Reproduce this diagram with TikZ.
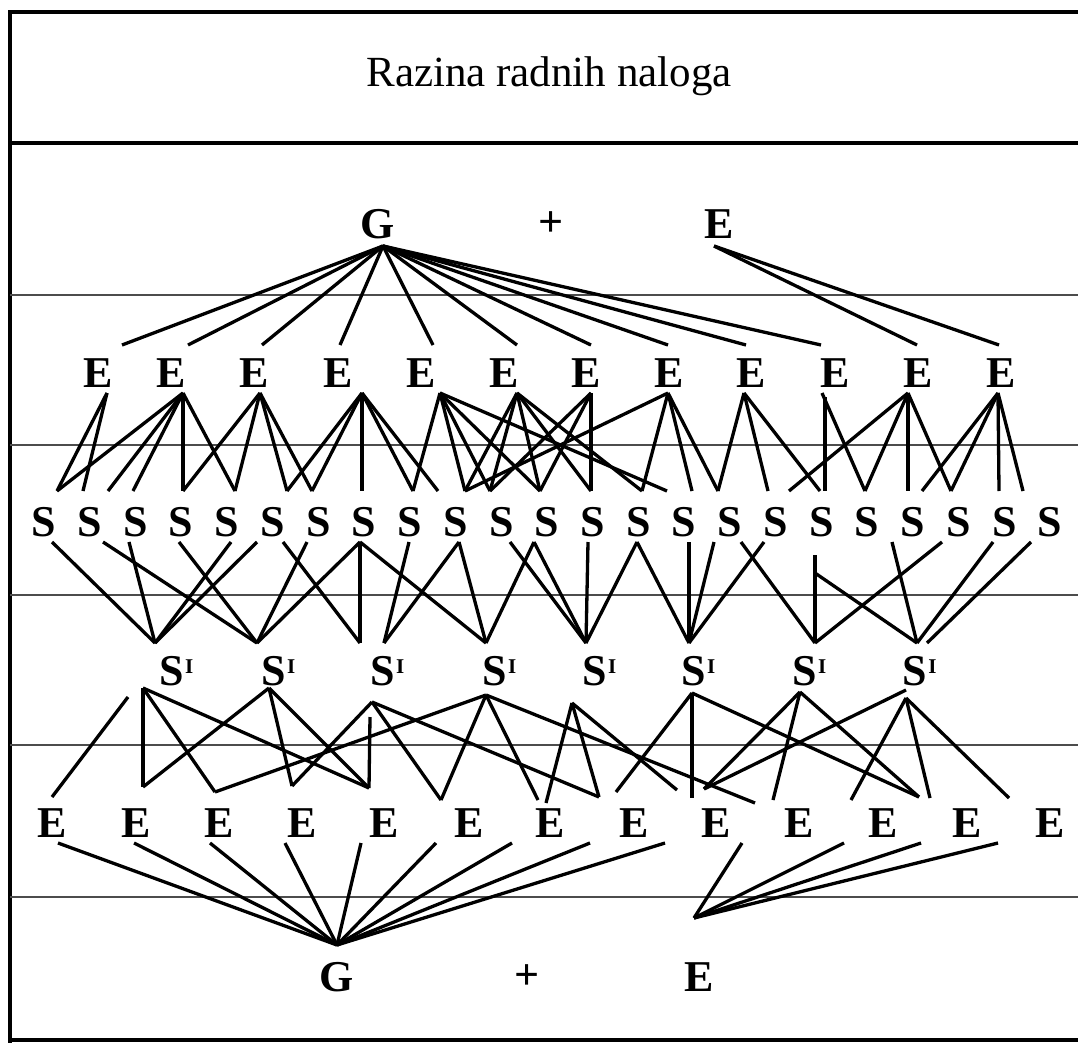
\documentclass[tikz,border=0pt]{standalone}
\usepackage{fontspec}
\setmainfont{Liberation Serif}
\newcommand\linksfrom[2]{\foreach \tt in {#2} {\draw[lnk] (#1) -- (\tt);}}
\begin{document}
\begin{tikzpicture}[x=1pt,y=-1pt,
  lbl/.style={font=\fontsize{44}{46}\selectfont\bfseries, inner sep=0pt},
  ttl/.style={font=\fontsize{43}{46}\selectfont, inner sep=0pt},
  lnk/.style={line width=3.3pt},
  band/.style={line width=1.8pt, draw=black!70},
  frm/.style={line width=3.4pt}]
\useasboundingbox (0,0) rectangle (1078,1043);
\fill[white] (0,0) rectangle (1078,1043);
% frame and level lines
\draw[frm] (1078,12) -- (10,12) -- (10,1043);
\draw[frm] (10,143) -- (1078,143);
\draw[frm] (10,1040) -- (1078,1040);
\foreach \yy in {295,445,595,745,897} \draw[band] (10,\yy) -- (1078,\yy);

\node[ttl] (title) at (549,76) {Razina radnih naloga};

% top row
\node[lbl] (gtop) at (378,224) {G};
\node[lbl] (ptop) at (551,224) {+};
\node[lbl] (etop) at (719,224) {E};
% row of E
\foreach \x [count=\i] in {98,171,254,338,421,504,586,669,751,835,918,1001}
  \node[lbl] (e\i) at (\x,373) {E};
% row of S
\foreach \i in {1,...,23}
  \node[lbl] (s\i) at ({44+45.73*(\i-1)},522) {S};
% row of S^I
\foreach \x [count=\i] in {172,274,383,495,595,694,805,915}
  \node[lbl] (si\i) at (\x,671) {S\rlap{\hspace{1pt}\raisebox{12pt}{\fontsize{21}{21}\selectfont I}}};
% lower row of E
\foreach \x [count=\i] in {52,136,219,302,384,469,550,634,716,799,883,967,1050}
  \node[lbl] (f\i) at (\x,823) {E};
% bottom row
\node[lbl] (gbot) at (337,977) {G};
\node[lbl] (pbot) at (527,977) {+};
\node[lbl] (ebot) at (699,977) {E};

% ---- ports ----
\coordinate (gA) at (383,246);
\coordinate (eA) at (714,246);
\foreach \x in {122,188,262,340,433,517,591,668,746,821,917,999}
  \coordinate (t\x) at (\x,345);
\foreach \x [count=\i] in {107,183,260,362,440,517,591,668,744,822,908,998}
  \coordinate (a\i) at (\x,393);
\coordinate (a10v) at (825,397);
\foreach \x in {57,83,108,133,183,235,287,312,362,413,438,465,490,540,591,642,667,692,718,768,789,820,825,865,908,922,951,999,1023}
  \coordinate (n\x) at (\x,491);
\foreach \x in {52,103,129,179,231,257,283,307,360,409,459,510,534,588,637,689,714,741,764,892,942,993,1031}
  \coordinate (m\x) at (\x,542);
\coordinate (m815) at (815,555);
\coordinate (m815k) at (815,573);
\foreach \x in {155,257,360,384,486,586,689,815,917,927}
  \coordinate (p\x) at (\x,643);
\coordinate (q0) at (128,697);
\coordinate (q1) at (143,688);
\coordinate (q2) at (269,688);
\coordinate (q3) at (372,702);
\coordinate (q3v) at (370,717);
\coordinate (q4) at (486,695);
\coordinate (q5) at (572,703);
\coordinate (q6) at (692,693);
\coordinate (q7) at (800,692);
\coordinate (q8a) at (906,690);
\coordinate (q8) at (906,698);
\coordinate (r52) at (52,797);
\coordinate (r143) at (143,787);
\coordinate (r215) at (215,792);
\coordinate (r292) at (292,786);
\coordinate (r368) at (369,788);
\coordinate (r441) at (441,800);
\coordinate (r537) at (538,800);
\coordinate (r546) at (546,803);
\coordinate (r599) at (599,797);
\coordinate (r616) at (616,792);
\coordinate (r677) at (677,790);
\coordinate (r692) at (692,798);
\coordinate (r704) at (704,789);
\coordinate (r755) at (755,803);
\coordinate (r773) at (773,800);
\coordinate (r851) at (851,800);
\coordinate (r919) at (919,797);
\coordinate (r930) at (930,798);
\coordinate (r1009) at (1009,798);
\foreach \x in {58,134,210,285,361,436,512,590,665,742,844,921,998}
  \coordinate (c\x) at (\x,843);
\coordinate (gB) at (337,945);
\coordinate (eB) at (694,918);

% ---- band 1 ----
\linksfrom{gA}{t122,t188,t262,t340,t433,t517,t591,t668,t746,t821}
\linksfrom{eA}{t917,t999}
% ---- band 2 ----
\linksfrom{a1}{n57,n83}
\linksfrom{a2}{n57,n108,n133,n183,n235}
\linksfrom{a3}{n183,n235,n287,n312}
\linksfrom{a4}{n287,n312,n362,n413,n438}
\linksfrom{a5}{n413,n465,n490,n540,n667}
\linksfrom{a6}{n465,n490,n540,n591,n642}
\linksfrom{a7}{n490,n540,n591}
\linksfrom{a8}{n465,n642,n692,n718}
\linksfrom{a9}{n718,n768,n820}
\linksfrom{a10}{n865}
\linksfrom{a10v}{n825}
\linksfrom{a11}{n789,n865,n908,n951}
\linksfrom{a12}{n922,n951,n999,n1023}
% ---- band 3 ----
\linksfrom{m52}{p155}
\linksfrom{m103}{p257}
\linksfrom{m129}{p155}
\linksfrom{m179}{p257}
\linksfrom{m231}{p155}
\linksfrom{m257}{p155}
\linksfrom{m283}{p360}
\linksfrom{m307}{p257}
\linksfrom{m360}{p257,p360,p486}
\linksfrom{m409}{p384}
\linksfrom{m459}{p384,p486}
\linksfrom{m510}{p586}
\linksfrom{m534}{p486,p586}
\linksfrom{m588}{p586}
\linksfrom{m637}{p586,p689}
\linksfrom{m689}{p689}
\linksfrom{m714}{p689}
\linksfrom{m741}{p815}
\linksfrom{m764}{p689}
\linksfrom{m815}{p815}
\linksfrom{m815k}{p917}
\linksfrom{m892}{p917}
\linksfrom{m942}{p815}
\linksfrom{m993}{p917}
\linksfrom{m1031}{p927}
% ---- band 4 ----
\linksfrom{q0}{r52}
\linksfrom{q1}{r143,r215,r368}
\linksfrom{q2}{r143,r292,r368}
\linksfrom{q3}{r292,r441,r599}
\linksfrom{q3v}{r368}
\linksfrom{q4}{r215,r441,r537,r755}
\linksfrom{q5}{r546,r599,r677}
\linksfrom{q6}{r616,r692,r919}
\linksfrom{q7}{r704,r773,r919}
\linksfrom{q8a}{r704}
\linksfrom{q8}{r851,r930,r1009}
% ---- band 5 ----
\linksfrom{gB}{c58,c134,c210,c285,c361,c436,c512,c590,c665}
\linksfrom{eB}{c742,c844,c921,c998}
\end{tikzpicture}
\end{document}
